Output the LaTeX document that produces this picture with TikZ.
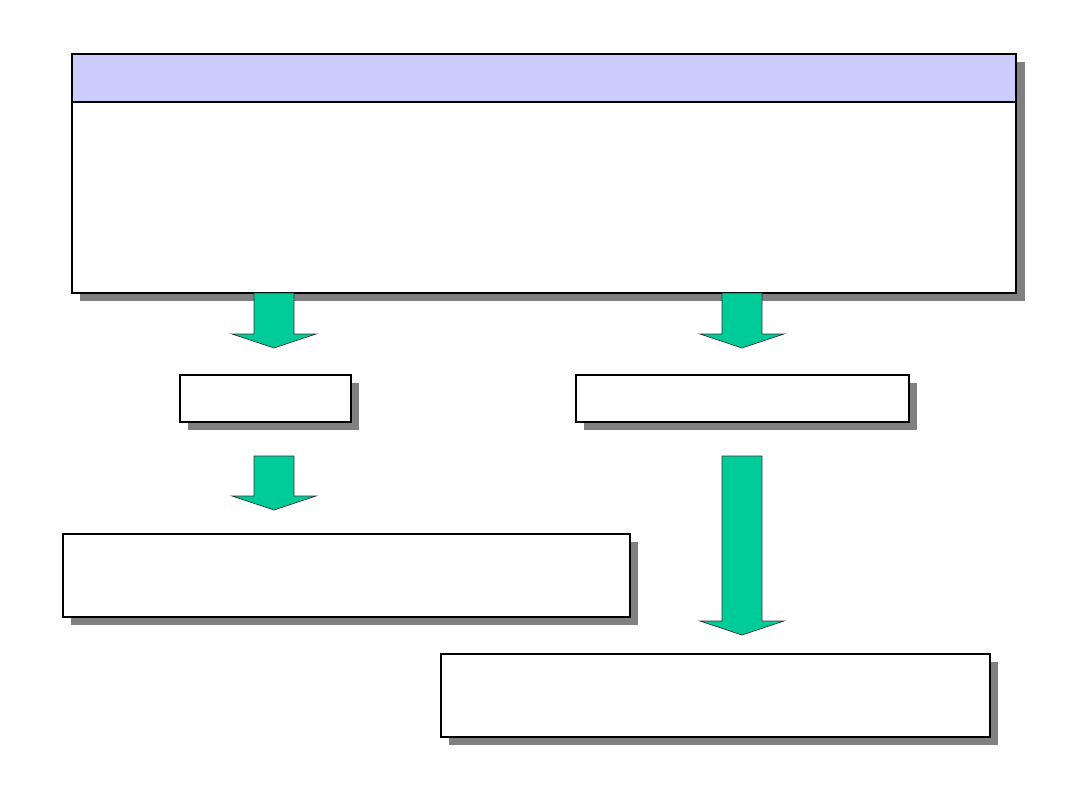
\documentclass[tikz,border=0pt]{standalone}
\usepackage{tikz}
\usetikzlibrary{shadows}
\definecolor{headband}{HTML}{CCCCFF}
\definecolor{flowgreen}{HTML}{00CC99}
\definecolor{shadowgray}{HTML}{808080}

\begin{document}
\begin{tikzpicture}[x=0.025cm,y=-0.025cm]
 \tikzstyle{panelbox}=[rectangle,draw=black,line width=1.3pt,fill=white,inner sep=0pt,
   general shadow={fill=shadowgray,draw=none,shadow xshift=0.21cm,shadow yshift=-0.21cm}]
 \tikzstyle{headbar}=[rectangle,draw=black,line width=1.3pt,fill=headband,inner sep=0pt]
 \tikzstyle{flowarrow}=[draw=black!80,line width=0.5pt,fill=flowgreen,line join=miter]
 \useasboundingbox (0,0) rectangle (1080,810);
 \node[panelbox,minimum width=23.6cm,minimum height=5.975cm] (overview) at (544,173.5) {};
 \node[headbar,minimum width=23.6cm,minimum height=1.2cm,anchor=north] (title) at (overview.north) {};
 \node[panelbox,minimum width=4.275cm,minimum height=1.175cm] (leftstep) at (265.5,398.5) {};
 \node[panelbox,minimum width=8.325cm,minimum height=1.175cm] (rightstep) at (742.5,398.5) {};
 \node[panelbox,minimum width=14.175cm,minimum height=2.075cm] (leftresult) at (346.5,575.5) {};
 \node[panelbox,minimum width=13.725cm,minimum height=2.075cm] (rightresult) at (715.5,695.5) {};
 % block arrows: centre x, top y, tip y
 \foreach \cx/\ytop/\ytip in {274/293/348, 742/293/348, 274/456/510, 742/456/635}{
   \draw[flowarrow] ({\cx-20},\ytop) -- ({\cx+20},\ytop) -- ({\cx+20},{\ytip-14}) -- ({\cx+42},{\ytip-14})
     -- (\cx,\ytip) -- ({\cx-42},{\ytip-14}) -- ({\cx-20},{\ytip-14}) -- cycle;
 }
\end{tikzpicture}
\end{document}
